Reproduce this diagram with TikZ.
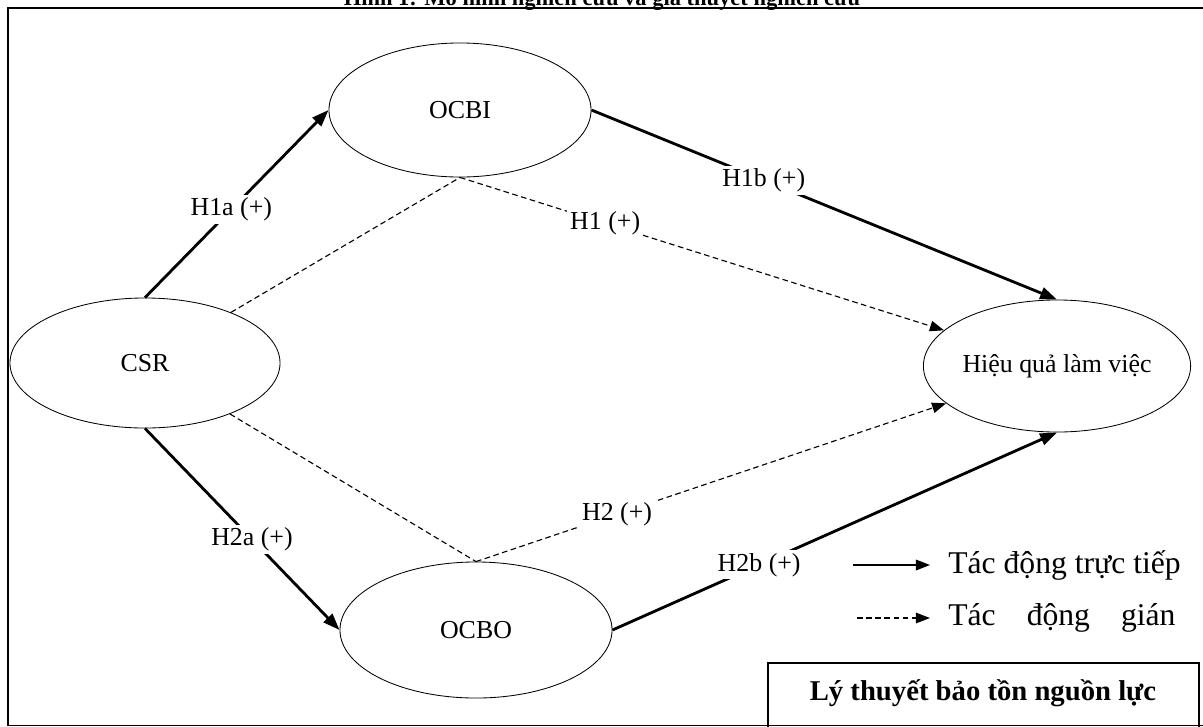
\documentclass[tikz,border=0pt]{standalone}
\usepackage{fontspec}
\setmainfont{Liberation Serif}
\usetikzlibrary{arrows.meta, shapes.geometric, positioning, calc}

\begin{document}
\begin{tikzpicture}[
  x=0.025cm, y=-0.025cm,
  % --- styles ------------------------------------------------------------
  var/.style={
    ellipse, draw, line width=0.6pt, inner sep=0pt,
    font=\fontsize{18.4}{22}\selectfont
  },
  hyp/.style={fill=white, inner sep=2pt, font=\fontsize{18.4}{22}\selectfont},
  direct/.style={-{Triangle[length=12pt, width=8.5pt]}, line width=2pt},
  indirect/.style={-{Triangle[length=10pt, width=7.5pt]}, line width=0.8pt,
    dash pattern=on 4pt off 2.5pt},
  link/.style={line width=0.8pt, dash pattern=on 4pt off 2.5pt},
  legsolid/.style={-{Triangle[length=10pt, width=7.5pt]}, line width=1.1pt},
  legtext/.style={font=\fontsize{22.5}{26}\selectfont, inner sep=0pt},
  node distance = 0.45cm % legend gap between arrow and text
]
\useasboundingbox (0,0) rectangle (1203,726);

% --------------------- frame and title ------------------------------------
\draw[line width=1.4pt] (8,8) rectangle (1215,725.5);
\node[font=\bfseries\fontsize{16}{19}\selectfont, anchor=base] (title) at (602,5)
     {Hình 1: Mô hình nghiên cứu và giả thuyết nghiên cứu};

% --------------------- constructs -----------------------------------------
\node[var, minimum width=6.75cm, minimum height=3.25cm] (CSR)  at (145,363) {CSR};
\node[var, minimum width=6.55cm, minimum height=3.35cm] (OCBI) at (460,110) {OCBI};
\node[var, minimum width=6.8cm,  minimum height=3.4cm]  (OCBO) at (476,630) {OCBO};
\node[var, minimum width=6.0cm,  minimum height=3.3cm]  (Hieu) at (1057,366) {Hiệu quả làm việc};

% --------------------- direct effects -------------------------------------
\draw[direct] (CSR.north) -- node[hyp, pos=.47] {H1a (+)} (OCBI.west);
\draw[direct] (OCBI.east) -- node[hyp, pos=.37] {H1b (+)} (Hieu.north);
\draw[direct] (CSR.south) -- node[hyp, pos=.55] {H2a (+)} (OCBO.west);
\draw[direct] (OCBO.east) -- node[hyp, pos=.33] {H2b (+)} (Hieu.south);

% --------------------- indirect effects -----------------------------------
\draw[link] (CSR) -- (OCBI.south);
\draw[indirect] (OCBI.south) -- node[hyp, pos=.3] {H1 (+)} (Hieu);
\draw[link] (CSR) -- (OCBO.north);
\draw[indirect] (OCBO.north) -- node[hyp, pos=.3] {H2 (+)} (Hieu);

% --------------------- legend ---------------------------------------------
\coordinate (solidA) at (853,565);
\coordinate (solidB) at (930,565);
\coordinate (dashA) at (857,618);
\coordinate (dashB) at (930,618);
\draw[legsolid] (solidA) -- (solidB);
\draw[legsolid, line width=0.8pt, dash pattern=on 4pt off 2.5pt] (dashA) -- (dashB);
\node[legtext, right=of solidB] (legdirect) {Tác động trực tiếp};
\node[legtext, right=of dashB] (legindirect) {\makebox[5.68cm][s]{Tác động gián}};

% --------------------- theory box -----------------------------------------
\draw[line width=1.4pt] (768,663) rectangle (1199,745);
\node[font=\bfseries\fontsize{20.4}{24}\selectfont] (theory) at (983,693)
     {Lý thuyết bảo tồn nguồn lực};

\end{tikzpicture}
\end{document}
